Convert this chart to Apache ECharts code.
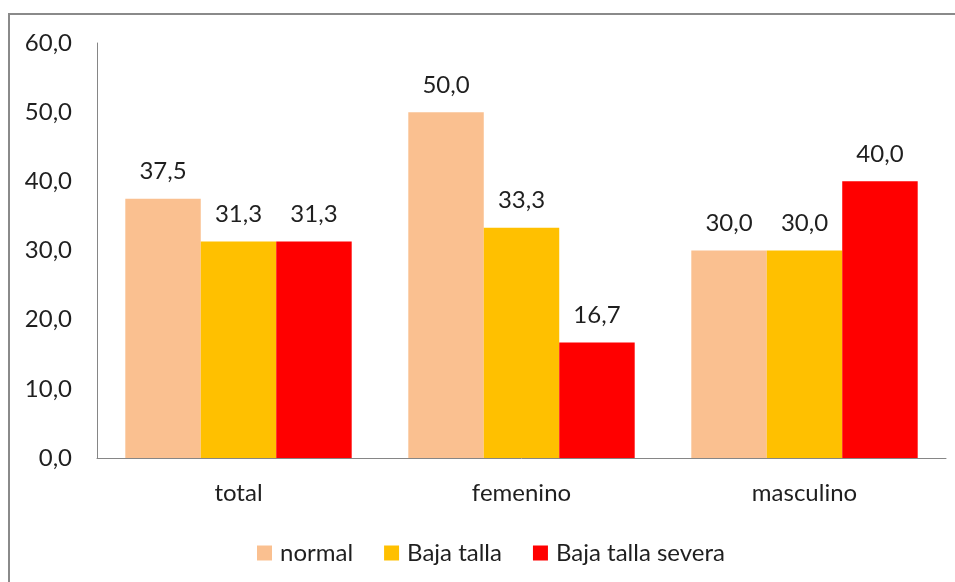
<!DOCTYPE html>
<html>
<head>
<meta charset="utf-8">
<script src="https://cdn.jsdelivr.net/npm/echarts@6/dist/echarts.min.js"></script>
<style>html,body{margin:0;padding:0;background:#fff;}#c{width:955px;height:582px;}</style>
</head>
<body>
<div id="c"></div>
<script>
var categories = ['total', 'femenino', 'masculino'];
var seriesNames = ['normal', 'Baja talla', 'Baja talla severa'];
var normal = [37.5, 50.0, 30.0];
var bajaTalla = [31.3, 33.3, 30.0];
var bajaTallaSevera = [31.3, 16.7, 40.0];
var colors = ['#FAC090', '#FFC000', '#FF0000'];

var fmt = function (v) { return Number(v).toFixed(1).replace('.', ','); };
var font = 'Lato';
var txt = '#1f1f1f';
var fs = 24;

function mk(name, data, color) {
  return {
    name: name, type: 'bar', data: data, barGap: '0%', barCategoryGap: '20%',
    itemStyle: { color: color },
    label: { show: true, position: 'top', distance: 15, color: txt, fontFamily: font, fontSize: fs,
      formatter: function (p) { return fmt(p.value); } }
  };
}

var chart = echarts.init(document.getElementById('c'), null, { renderer: 'canvas' });
chart.setOption({
  animation: false,
  backgroundColor: '#fff',
  graphic: [{ type: 'rect', shape: { x: 9, y: 14, width: 1200, height: 1200 }, style: { fill: 'none', stroke: '#8a8a8a', lineWidth: 2 } }],
  grid: { left: 97, right: 9, top: 43, bottom: 124 },
  legend: {
    left: 252, top: 536, itemWidth: 15, itemHeight: 15, itemGap: 31, icon: 'rect',
    textStyle: { color: txt, fontFamily: font, fontSize: fs, padding: [0, 0, 0, 3] },
    data: seriesNames
  },
  xAxis: {
    type: 'category', data: categories,
    axisLine: { lineStyle: { color: '#868686', width: 1 } },
    axisTick: { show: false },
    axisLabel: { color: txt, fontFamily: font, fontSize: fs, margin: 23 }
  },
  yAxis: {
    type: 'value', min: 0, max: 60, interval: 10,
    axisLine: { show: true, lineStyle: { color: '#868686', width: 1 } },
    axisTick: { show: false },
    splitLine: { show: false },
    axisLabel: { color: txt, fontFamily: font, fontSize: fs, margin: 25, formatter: fmt }
  },
  series: [
    mk(seriesNames[0], normal, colors[0]),
    mk(seriesNames[1], bajaTalla, colors[1]),
    mk(seriesNames[2], bajaTallaSevera, colors[2])
  ]
});
</script>
</body>
</html>
